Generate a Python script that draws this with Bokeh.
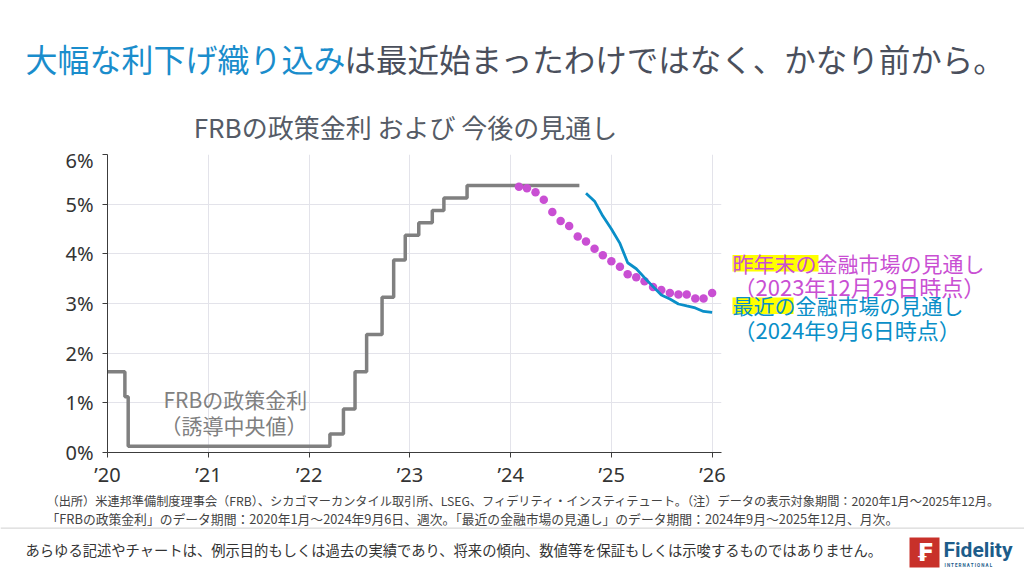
import pandas as pd
from bokeh.plotting import figure
from bokeh.layouts import column, row
from bokeh.models import Range1d, FixedTicker, DatetimeTickFormatter, Label, BoxAnnotation
from bokeh.embed import file_html
from bokeh.resources import INLINE

# ---------------- data ----------------
# FRB policy rate (target range midpoint), step changes, weekly data until 2024-09-06
frb_dates = ["2020-01-01", "2020-03-04", "2020-03-16", "2022-03-17", "2022-05-05",
             "2022-06-16", "2022-07-28", "2022-09-22", "2022-11-03", "2022-12-15",
             "2023-02-02", "2023-03-23", "2023-05-04", "2023-07-27", "2024-09-06"]
frb_rate = [1.625, 1.125, 0.125, 0.375, 0.875, 1.625, 2.375, 3.125, 3.875, 4.375,
            4.625, 4.875, 5.125, 5.375, 5.375]

# market expectations as of 2023-12-29 (monthly)
dec23_months = ["2024-01", "2024-02", "2024-03", "2024-04", "2024-05", "2024-06",
                "2024-07", "2024-08", "2024-09", "2024-10", "2024-11", "2024-12",
                "2025-01", "2025-02", "2025-03", "2025-04", "2025-05", "2025-06",
                "2025-07", "2025-08", "2025-09", "2025-10", "2025-11", "2025-12"]
dec23_rate = [5.35, 5.32, 5.24, 5.09, 4.84, 4.66, 4.56, 4.35, 4.25, 4.10, 3.97, 3.85,
              3.74, 3.59, 3.53, 3.45, 3.33, 3.27, 3.21, 3.18, 3.18, 3.10, 3.10, 3.21]

# market expectations as of 2024-09-06 (monthly)
sep24_months = ["2024-09", "2024-10", "2024-11", "2024-12", "2025-01", "2025-02",
                "2025-03", "2025-04", "2025-05", "2025-06", "2025-07", "2025-08",
                "2025-09", "2025-10", "2025-11", "2025-12"]
sep24_rate = [5.22, 5.06, 4.76, 4.50, 4.21, 3.82, 3.70, 3.52, 3.34, 3.17, 3.09, 2.99,
              2.95, 2.91, 2.84, 2.82]

x_tick_years = [2020, 2021, 2022, 2023, 2024, 2025, 2026]
y_ticks = [0, 1, 2, 3, 4, 5, 6]
y_tick_labels = ["0%", "1%", "2%", "3%", "4%", "5%", "6%"]

title_blue = "大幅な利下げ織り込み"
title_gray = "は最近始まったわけではなく、かなり前から。"
chart_title = "FRBの政策金利 および 今後の見通し"
frb_label = ["FRBの政策金利", "（誘導中央値）"]
dec23_label = ["昨年末の", "金融市場の見通し", "（2023年12月29日時点）"]
sep24_label = ["最近の", "金融市場の見通し", "（2024年9月6日時点）"]
note1 = "（出所）米連邦準備制度理事会（FRB）、シカゴマーカンタイル取引所、LSEG、フィデリティ・インスティテュート。（注）データの表示対象期間：2020年1月～2025年12月。"
note2 = "「FRBの政策金利」のデータ期間：2020年1月～2024年9月6日、週次。「最近の金融市場の見通し」のデータ期間：2024年9月～2025年12月、月次。"
disclaimer = "あらゆる記述やチャートは、例示目的もしくは過去の実績であり、将来の傾向、数値等を保証もしくは示唆するものではありません。"

# ---------------- styles ----------------
JP = "Noto Sans CJK JP"
GRAY_LINE = "#808080"
MAGENTA = "#c94fd3"
BLUE = "#0a8fc8"
TITLE_BLUE = "#1a8dcc"
TITLE_GRAY = "#4a4f5c"
YELLOW = "#ffff00"

frb_x = pd.to_datetime(frb_dates)
dec23_x = pd.to_datetime(dec23_months) + pd.offsets.MonthEnd(0)
sep24_x = pd.to_datetime(sep24_months) + pd.offsets.MonthEnd(0)

HEAD_H = 146
MID_H = 490 - HEAD_H
FOOT_H = 86


def blank(width, height, x0, x1, y0, y1):
    """A figure whose frame fills it, with page-pixel data coordinates (y downwards)."""
    f = figure(width=width, height=height, output_backend="svg", toolbar_location=None,
               x_range=Range1d(x0, x1), y_range=Range1d(y1, y0),
               x_axis_location=None, y_axis_location=None,
               min_border=0, min_border_left=0, min_border_right=0,
               min_border_top=0, min_border_bottom=0)
    f.outline_line_color = None
    f.grid.grid_line_color = None
    f.background_fill_color = "white"
    f.border_fill_color = "white"
    return f


def lab(f, X, Y, text, size, color, align="left", font=JP, style="normal"):
    f.add_layout(Label(x=X, y=Y, text=text, text_font=font, text_font_size=size,
                       text_color=color, text_align=align, text_baseline="middle",
                       text_font_style=style))


def box(f, X0, X1, Y0, Y1, color):
    f.add_layout(BoxAnnotation(left=X0, right=X1, top=Y0, bottom=Y1,
                               fill_color=color, fill_alpha=1, line_color=None,
                               level="annotation"))


# ---------------- header ----------------
head = blank(1024, HEAD_H, 0, 1024, 0, HEAD_H)
lab(head, 25, 57, title_blue, "32px", TITLE_BLUE)
lab(head, 344, 57, title_gray, "31.5px", TITLE_GRAY)
lab(head, 405, 126, chart_title, "26px", "#555b66", align="center")

# ---------------- main chart ----------------
p = figure(width=730, height=MID_H, output_backend="svg", toolbar_location=None,
           x_axis_type="datetime",
           x_range=Range1d(pd.Timestamp("2020-01-01"), pd.Timestamp("2026-02-03")),
           y_range=Range1d(0, 6),
           min_border_left=107, min_border_right=9,
           min_border_top=154 - HEAD_H, min_border_bottom=35)
p.outline_line_color = None
p.background_fill_color = "white"
p.border_fill_color = "white"

p.xaxis.ticker = FixedTicker(ticks=[pd.Timestamp(f"{y}-01-01").value // 10**6 for y in x_tick_years])
p.xaxis.formatter = DatetimeTickFormatter(years="’%y", months="’%y", days="’%y")
p.yaxis.ticker = FixedTicker(ticks=y_ticks)
p.yaxis.major_label_overrides = {t: l for t, l in zip(y_ticks, y_tick_labels)}
for ax in (p.xaxis, p.yaxis):
    ax.axis_line_color = "#3c3c3c"
    ax.axis_line_width = 1
    ax.major_tick_line_color = "#3c3c3c"
    ax.major_tick_out = 5
    ax.major_tick_in = 0
    ax.minor_tick_line_color = None
    ax.major_label_text_font = "Noto Sans"
    ax.major_label_text_color = "#333333"
p.yaxis.major_label_text_font_size = "20px"
p.xaxis.major_label_text_font_size = "20px"
p.yaxis.major_label_standoff = 9
p.xaxis.major_label_standoff = 3
p.xgrid.grid_line_color = "#e3e3ea"
p.ygrid.grid_line_color = "#e3e3ea"
p.xgrid.ticker = p.xaxis.ticker
p.ygrid.ticker = p.yaxis.ticker

p.step(frb_x, frb_rate, mode="after", line_color=GRAY_LINE, line_width=3.5)
p.scatter(dec23_x, dec23_rate, size=8.5, fill_color=MAGENTA, line_color=None)
p.line(sep24_x, sep24_rate, line_color=BLUE, line_width=2.8)

# label inside the frame (screen units relative to the frame: x from left, y from bottom)
FL, FB = 107, 455
for Y, X, t in [(401, 163, frb_label[0]), (427, 160, frb_label[1])]:
    p.add_layout(Label(x=X - FL, y=FB - Y, x_units="screen", y_units="screen", text=t,
                       text_font=JP, text_font_size="21px", text_color=GRAY_LINE,
                       text_baseline="middle"))

# ---------------- side annotations ----------------
side = blank(294, MID_H, 730, 1024, HEAD_H, 490)
box(side, 732, 818, 262, 281, YELLOW)
lab(side, 732, 271, dec23_label[0], "21px", MAGENTA)
lab(side, 816, 271, dec23_label[1], "21px", MAGENTA)
lab(side, 733, 298, dec23_label[2], "22px", MAGENTA)
box(side, 732, 793, 311, 330, YELLOW)
lab(side, 732, 320, sep24_label[0], "21px", BLUE)
lab(side, 795, 320, sep24_label[1], "21px", BLUE)
lab(side, 733, 347, sep24_label[2], "22px", BLUE)

# ---------------- footer ----------------
foot = blank(1024, FOOT_H, 0, 1024, 490, 576)
lab(foot, 46, 500, note1, "12.2px", "#444444")
lab(foot, 46, 518, note2, "12.8px", "#444444")
box(foot, 0, 1024, 527, 528.2, "#d9d9d9")
lab(foot, 25, 549, disclaimer, "14.3px", "#333333")
box(foot, 909, 939, 537, 567, "#c8312a")
lab(foot, 924, 552, "₣", "24px", "white", align="center", font="DejaVu Sans", style="bold")
lab(foot, 943, 549, "Fidelity", "21px", "#1d5c8a", font="Roboto", style="bold")
lab(foot, 944, 565, "I N T E R N A T I O N A L", "4.5px", "#1d5c8a", font="Roboto", style="bold")

layout = column(head, row(p, side, spacing=0), foot, spacing=0)
open("out.html", "w").write(file_html(layout, INLINE))
